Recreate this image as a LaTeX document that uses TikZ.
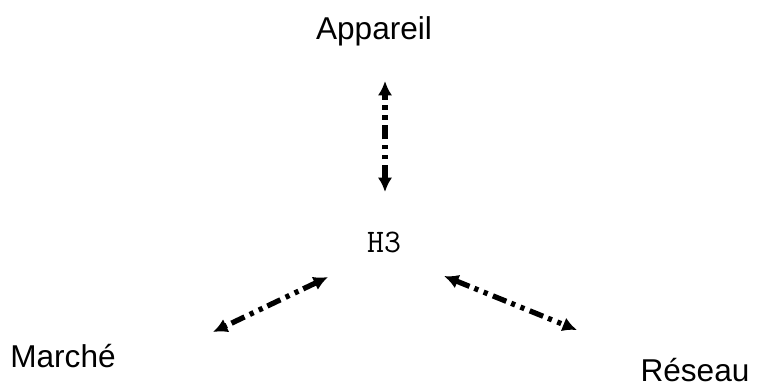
\documentclass[tikz,border=0pt]{standalone}
\usepackage{fontspec}
\setmainfont{Liberation Sans}
\usetikzlibrary{arrows.meta}

\tikzset{
  label/.style={font=\fontsize{12}{14}\selectfont, inner sep=0pt},
  link/.style={line width=2pt, {Latex[length=5.5pt,width=5.5pt]}-{Latex[length=5.5pt,width=5.5pt]},
    dash pattern=on 5.5pt off 2pt on 1.6pt off 2.2pt on 1.6pt off 2.2pt}
}

\begin{document}
\begin{tikzpicture}[x=0.38pt, y=-0.38pt]

        \useasboundingbox (0,0) rectangle (768,385);

        \node[label] (appareil) at (374,31) {Appareil};
        \node[label, font=\ttfamily\fontsize{12.5}{14}\selectfont] (h3) at (384,242) {H3};
        \node[label] (marche) at (63,356) {Marché};
        \node[label] (reseau) at (695,370) {Réseau};

        % ends of the links
        \coordinate (app-end) at (385,81);
        \coordinate (h3-top) at (385,192);
        \coordinate (h3-left) at (328,277);
        \coordinate (marche-end) at (213,332);
        \coordinate (h3-right) at (444,276);
        \coordinate (reseau-end) at (577,330);

        \draw[link] (h3-top) -- (app-end);
        \draw[link] (h3-left) -- (marche-end);
        \draw[link] (h3-right) -- (reseau-end);
    \end{tikzpicture}
\end{document}
